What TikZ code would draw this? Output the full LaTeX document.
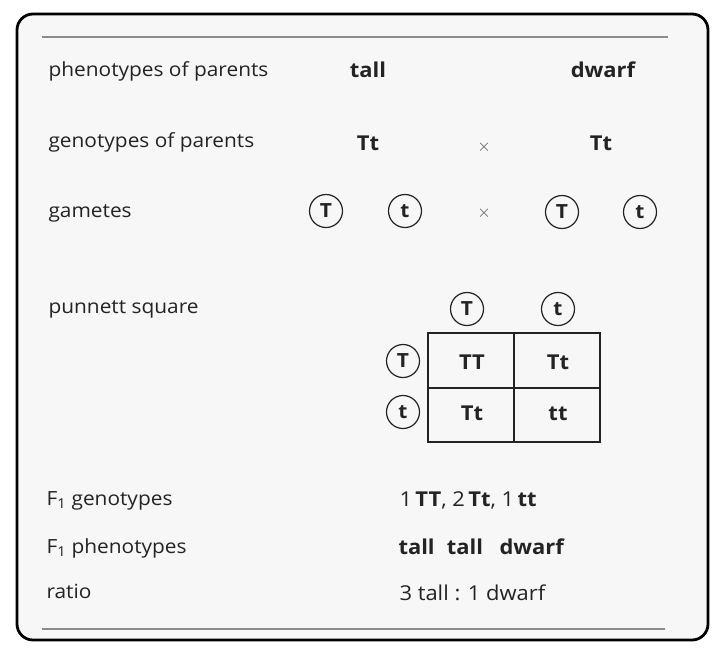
\documentclass[tikz,border=0pt]{standalone}
\usepackage{fontspec}
\setmainfont{Open Sans}[FakeStretch=1.07]
\usetikzlibrary{positioning}
\definecolor{ink}{RGB}{35,35,35}
\definecolor{paper}{RGB}{247,247,247}
\definecolor{rule}{RGB}{140,140,140}
\tikzset{%
  label/.style={anchor=base west, text=ink, font=\fontsize{19.5}{22}\selectfont},
  value/.style={anchor=base, text=ink, font=\fontsize{20.5}{23}\selectfont\bfseries},
  plain/.style={anchor=base west, text=ink, font=\fontsize{20.5}{23}\selectfont},
  allele/.style={circle, draw=ink, line width=1.2pt, minimum size=33pt, inner sep=0pt,
                 text=ink, font=\fontsize{19.5}{22}\selectfont\bfseries},
  cross/.style={text=ink!80, font=\fontsize{19}{22}\selectfont},
}

\begin{document}
\begin{tikzpicture}[x=1pt, y=-1pt]

% background and frame
\fill[white] (0,0) rectangle (722,648);
\useasboundingbox (0,0) rectangle (722,648);
\draw[line width=2.8pt, fill=paper, rounded corners=16pt] (17,14) rectangle (708,640);
\draw[rule, line width=1.8pt] (42,37) -- (668,37);
\draw[rule, line width=1.8pt] (42,629) -- (665,629);

% left column
\node[label] (phenoP) at (45,76) {phenotypes of parents};
\node[label] (genoP) at (45,147) {genotypes of parents};
\node[label] (gam) at (45,217) {gametes};
\node[label] (punnett) at (45,313) {punnett square};
\node[label] (genoF) at (43,505) {F\textsubscript{1} genotypes};
\node[label] (phenoF) at (43,553) {F\textsubscript{1} phenotypes};
\node[label] (ratio) at (43,598) {ratio};

% parents
\node[value] (tallP) at (368,77) {tall};
\node[value] (dwarfP) at (603,77) {dwarf};
\node[value] (genoA) at (368,150) {Tt};
\node[cross] (crossA) at (484,147) {$\times$};
\node[value] (genoB) at (601,150) {Tt};

% gametes
\node[allele] (gA1) at (326,211) {T};
\node[allele] (gA2) at (405,211) {t};
\node[cross] (crossB) at (484,213) {$\times$};
\node[allele] (gB1) at (562,212) {T};
\node[allele] (gB2) at (640,212) {t};

% punnett square
\draw[ink, line width=1.1pt] (428,333) rectangle (600,442);
\draw[ink, line width=1.1pt] (514,333) -- (514,442);
\draw[ink, line width=1.1pt] (428,388) -- (600,388);
\node[allele] (colT) at (467,309) {T};
\node[allele] (colt) at (558,309) {t};
\node[allele] (rowT) at (403,361) {T};
\node[allele] (rowt) at (403,412) {t};
\node[value] (cTT) at (472,369) {TT};
\node[value] (cTt) at (558,369) {Tt};
\node[value] (ctT) at (472,420) {Tt};
\node[value] (ctt) at (558,420) {tt};

% offspring
\node[plain] (genoList) at (396,506) {1\,\textbf{TT}, 2\,\textbf{Tt}, 1\,\textbf{tt}};
\node[value, anchor=base west] (phenoList) at (395,554) {tall\hspace{0.6em}tall\hspace{0.8em}dwarf};
\node[plain] (ratioVal) at (396,600) {3 tall : 1 dwarf};

\end{tikzpicture}
\end{document}
